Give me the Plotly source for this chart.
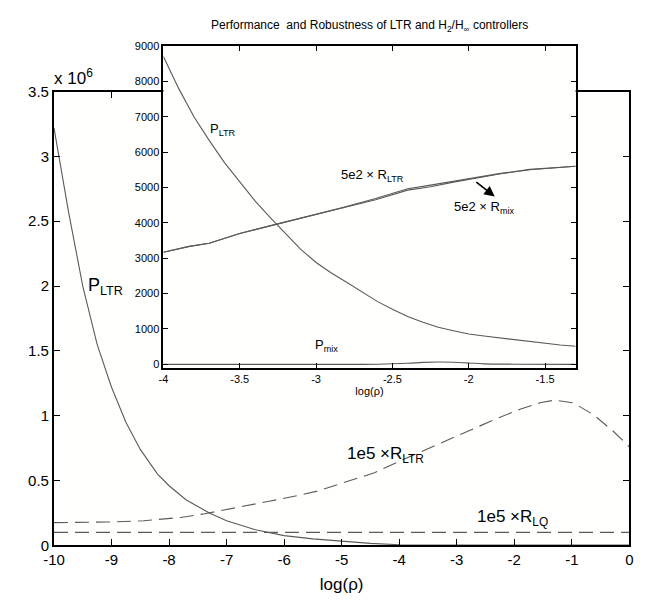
import plotly.graph_objects as go

# ---------------- data (main axes, values in units of 1e6) ----------------
main_x_p = [-10, -9.9, -9.75, -9.5, -9.25, -9.0, -8.75, -8.5, -8.2, -8.0,
            -7.7, -7.3, -7.0, -6.5, -6.0, -5.5, -5.0, -4.5, -4.0, -3.0, 0.0]
main_p_ltr = [3.22, 2.95, 2.58, 2.0, 1.55, 1.22, 0.95, 0.74, 0.55, 0.46,
              0.35, 0.25, 0.19, 0.12, 0.075, 0.05, 0.03, 0.015, 0.005, 0.002, 0.002]

main_x_r = [-10, -9.07, -8.44, -7.8, -7.38, -6.82, -6.26, -5.7, -5.41, -4.92,
            -4.43, -3.94, -3.38, -2.81, -2.32, -1.9, -1.55, -1.3, -0.98, -0.63,
            -0.28, 0.0]
main_r_ltr = [0.175, 0.18, 0.19, 0.215, 0.244, 0.29, 0.34, 0.39, 0.42, 0.49,
              0.56, 0.66, 0.77, 0.88, 0.975, 1.05, 1.10, 1.12, 1.10, 1.01,
              0.88, 0.76]

main_x_rlq = [-10, 0]
main_r_lq = [0.1, 0.1]

main_xticks = [-10, -9, -8, -7, -6, -5, -4, -3, -2, -1, 0]
main_xtext = ["-10", "-9", "-8", "-7", "-6", "-5", "-4", "-3", "-2", "-1", "0"]
main_yticks = [0, 0.5, 1, 1.5, 2, 2.5, 3, 3.5]
main_ytext = ["0", "0.5", "1", "1.5", "2", "2.5", "3", "3.5"]

# ---------------- data (inset axes) ----------------
ins_x_p = [-4.0, -3.9, -3.8, -3.7, -3.6, -3.5, -3.4, -3.3, -3.2, -3.1,
           -3.0, -2.9, -2.8, -2.7, -2.6, -2.5, -2.4, -2.3, -2.2, -2.1,
           -2.0, -1.9, -1.8, -1.7, -1.6, -1.5, -1.4, -1.3]
ins_p_ltr = [8700, 7800, 7000, 6330, 5700, 5150, 4620, 4150, 3700, 3250,
             2880, 2580, 2320, 2040, 1780, 1560, 1350, 1190, 1050, 950,
             860, 800, 745, 690, 640, 590, 545, 510]

ins_x_r = [-4.0, -3.83, -3.70, -3.50, -3.25, -3.04, -2.82, -2.61, -2.40, -2.25,
           -2.1, -1.97, -1.8, -1.6, -1.45, -1.3]
ins_r_ltr = [3171, 3335, 3425, 3698, 3970, 4196, 4425, 4651, 4924, 5020,
             5150, 5243, 5380, 5500, 5560, 5600]
ins_r_mix = [3171, 3335, 3425, 3698, 3970, 4196, 4440, 4690, 4965, 5065,
             5175, 5255, 5390, 5510, 5565, 5600]

ins_x_pmix = [-4.0, -3.0, -2.6, -2.4, -2.3, -2.2, -2.1, -2.0, -1.9, -1.7, -1.3]
ins_p_mix = [0, 0, 5, 30, 55, 65, 60, 40, 15, 5, 0]

ins_xticks = [-4, -3.5, -3, -2.5, -2, -1.5]
ins_xtext = ["-4", "-3.5", "-3", "-2.5", "-2", "-1.5"]
ins_yticks = [0, 1000, 2000, 3000, 4000, 5000, 6000, 7000, 8000, 9000]
ins_ytext = ["0", "1000", "2000", "3000", "4000", "5000", "6000", "7000", "8000", "9000"]

FONT = "Liberation Sans, Arial, sans-serif"
LINE = "#5a5a5a"

fig = go.Figure()

# main traces
fig.add_trace(go.Scatter(x=main_x_p, y=main_p_ltr, mode="lines",
                         line=dict(color=LINE, width=1.1),
                         xaxis="x", yaxis="y", showlegend=False))
fig.add_trace(go.Scatter(x=main_x_r, y=main_r_ltr, mode="lines",
                         line=dict(color=LINE, width=1.1, dash="14px,7px"),
                         xaxis="x", yaxis="y", showlegend=False))
fig.add_trace(go.Scatter(x=main_x_rlq, y=main_r_lq, mode="lines",
                         line=dict(color=LINE, width=1.1, dash="14px,7px"),
                         xaxis="x", yaxis="y", showlegend=False))

# inset traces
fig.add_trace(go.Scatter(x=ins_x_p, y=ins_p_ltr, mode="lines",
                         line=dict(color=LINE, width=1.1),
                         xaxis="x2", yaxis="y2", showlegend=False))
fig.add_trace(go.Scatter(x=ins_x_r, y=ins_r_ltr, mode="lines",
                         line=dict(color=LINE, width=1.1),
                         xaxis="x2", yaxis="y2", showlegend=False))
fig.add_trace(go.Scatter(x=ins_x_r, y=ins_r_mix, mode="lines",
                         line=dict(color=LINE, width=1.1),
                         xaxis="x2", yaxis="y2", showlegend=False))
fig.add_trace(go.Scatter(x=ins_x_pmix, y=ins_p_mix, mode="lines",
                         line=dict(color=LINE, width=1.1, shape="spline"),
                         xaxis="x2", yaxis="y2", showlegend=False))

W, H = 648, 600
mx0, mx1, my_top, my_bot = 44, 633, 85, 552
ix0, ix1, iy_top, iy_bot = 156, 578, 38, 369

axis_common = dict(showline=True, linecolor="black", mirror="allticks",
                   ticks="inside", tickcolor="black", showgrid=False,
                   zeroline=False, tickmode="array")

fig.update_layout(
    width=W, height=H,
    margin=dict(l=0, r=0, t=0, b=0),
    paper_bgcolor="white", plot_bgcolor="#fffffe",
    font=dict(family=FONT, color="black"),
    xaxis=dict(domain=[mx0 / W, mx1 / W], range=[-10, 0],
               tickvals=main_xticks, ticktext=main_xtext, ticklen=6, linewidth=2,
               tickfont=dict(size=15),
               title=dict(text="log(\u03c1)", font=dict(size=17), standoff=11),
               **axis_common),
    yaxis=dict(domain=[1 - my_bot / H, 1 - my_top / H], range=[0, 3.5],
               tickvals=main_yticks, ticktext=main_ytext, ticklen=6, linewidth=2,
               tickfont=dict(size=15), anchor="x", **axis_common),
    xaxis2=dict(domain=[ix0 / W, ix1 / W], range=[-4, -1.3], anchor="y2",
                tickvals=ins_xticks, ticktext=ins_xtext, ticklen=5, linewidth=1.8,
                tickfont=dict(size=11),
                title=dict(text="log(\u03c1)", font=dict(size=11), standoff=3),
                **axis_common),
    yaxis2=dict(domain=[1 - iy_bot / H, 1 - iy_top / H], range=[-90, 9000],
                anchor="x2", tickvals=ins_yticks, ticktext=ins_ytext, ticklen=5,
                linewidth=1.8, tickfont=dict(size=11), **axis_common),
)

ann = []
# title of the inset
ann.append(dict(xref="paper", yref="paper", x=(ix0 + ix1) / 2 / W, y=1 - 17 / H,
                text="Performance  and Robustness of LTR and H<sub>2</sub>/H<sub>\u221e</sub> controllers",
                showarrow=False, font=dict(size=12), xanchor="center", yanchor="middle"))
# exponent
ann.append(dict(xref="paper", yref="paper", x=42 / W, y=1 - 70 / H,
                text="x 10<sup>6</sup>", showarrow=False, font=dict(size=17),
                xanchor="left", yanchor="middle"))
# main labels
ann.append(dict(xref="x", yref="y", x=-9.45, y=2.0, text="P<sub>LTR</sub>",
                showarrow=False, font=dict(size=18), xanchor="left", yanchor="middle"))
ann.append(dict(xref="x", yref="y", x=-4.95, y=0.7, text="1e5 \u00d7R<sub>LTR</sub>",
                showarrow=False, font=dict(size=17), xanchor="left", yanchor="middle"))
ann.append(dict(xref="x", yref="y", x=-2.68, y=0.21, text="1e5 \u00d7R<sub>LQ</sub>",
                showarrow=False, font=dict(size=17), xanchor="left", yanchor="middle"))
# inset labels
ann.append(dict(xref="x2", yref="y2", x=-3.71, y=6650, text="P<sub>LTR</sub>",
                showarrow=False, font=dict(size=13), xanchor="left", yanchor="middle"))
ann.append(dict(xref="x2", yref="y2", x=-2.85, y=5330, text="5e2 \u00d7 R<sub>LTR</sub>",
                showarrow=False, font=dict(size=13), xanchor="left", yanchor="middle"))
ann.append(dict(xref="x2", yref="y2", x=-2.11, y=4430, text="5e2 \u00d7 R<sub>mix</sub>",
                showarrow=False, font=dict(size=13), xanchor="left", yanchor="middle"))
ann.append(dict(xref="x2", yref="y2", x=-3.02, y=540, text="P<sub>mix</sub>",
                showarrow=False, font=dict(size=13), xanchor="left", yanchor="middle"))
# arrow
ann.append(dict(xref="x2", yref="y2", x=-1.83, y=4745, ax=-1.96, ay=5185,
                axref="x2", ayref="y2", text="", showarrow=True, arrowhead=2,
                arrowsize=1.3, arrowwidth=1.6, arrowcolor="black"))

fig.update_layout(annotations=ann)

fig.write_html("out.html")
